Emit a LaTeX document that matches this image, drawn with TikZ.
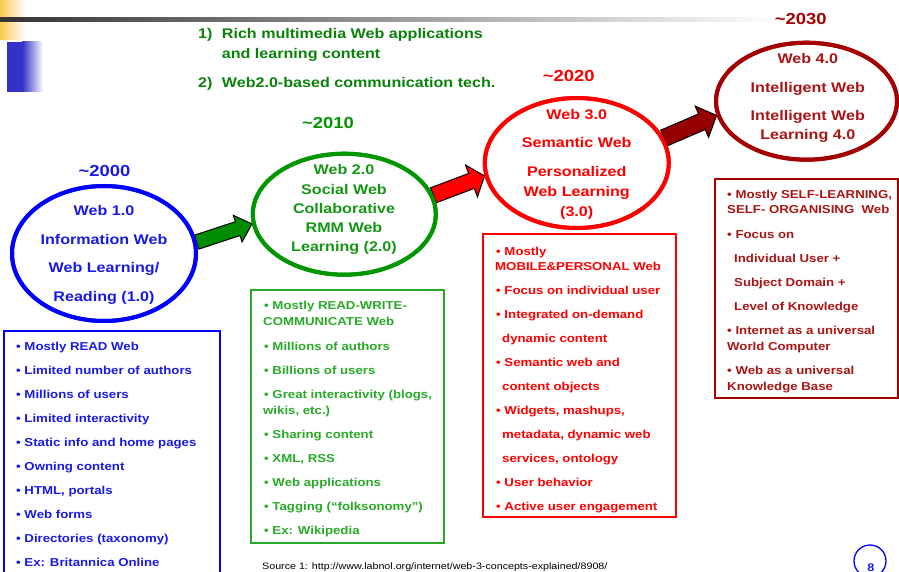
\documentclass[tikz,border=0pt]{standalone}
\usepackage{fontspec}
\setmainfont{Liberation Sans}[FakeStretch=1.15]
\usetikzlibrary{calc,shapes.geometric}
\definecolor{eblue}{RGB}{0,0,255}
\definecolor{tblue}{RGB}{25,25,230}
\definecolor{egreen}{RGB}{0,150,0}
\definecolor{tgreen}{RGB}{20,150,20}
\definecolor{bgreen}{RGB}{40,170,40}
\definecolor{hgreen}{RGB}{10,130,10}
\definecolor{ered}{RGB}{255,0,0}
\definecolor{edark}{RGB}{165,0,0}
\definecolor{tdark}{RGB}{170,20,20}
\definecolor{gold}{RGB}{250,200,80}
\definecolor{deco}{RGB}{50,50,200}
\definecolor{agreen}{RGB}{0,140,0}
\definecolor{adark}{RGB}{150,0,0}

\newcommand\blockarrow[6]{%
  \pgfpointdiff{\pgfpointanchor{#1}{center}}{\pgfpointanchor{#2}{center}}%
  \pgfgetlastxy{\bax}{\bay}%
  \pgfmathsetmacro\arrang{atan2(\bay,\bax)}%
  \pgfmathsetmacro\arrlen{veclen(\bax,\bay)}%
  \begin{scope}[shift={(#1)}, rotate=\arrang]
    \draw[barrow, fill=#6] (0,-#3) -- (\arrlen-#5,-#3) -- (\arrlen-#5,-#4) -- (\arrlen,0)
      -- (\arrlen-#5,#4) -- (\arrlen-#5,#3) -- (0,#3) -- cycle;
  \end{scope}}

\begin{document}
\begin{tikzpicture}[x=1pt,y=-1pt,
  ell/.style={ellipse, draw, line width=4pt, inner sep=0pt},
  ytxt/.style={font=\fontsize{16}{19}\selectfont\bfseries, anchor=base, inner sep=0pt},
  etxt/.style={font=\fontsize{14}{17}\selectfont\bfseries, anchor=base, inner sep=0pt},
  htxt/.style={font=\fontsize{14}{17}\selectfont\bfseries, anchor=base west, inner sep=0pt, text=hgreen},
  btxt/.style={font=\fontsize{11.5}{14}\selectfont\bfseries, anchor=base west, inner sep=0pt},
  listbox/.style={draw, line width=1.8pt},
  barrow/.style={draw=black, line width=1pt, line join=miter}]

\useasboundingbox (0,0) rectangle (899,572);

% decorations
\shade[left color=gold, right color=white] (0,0) rectangle (25,40);
\fill[deco] (7,42) rectangle (22,92);
\shade[left color=deco, right color=white] (22,42) rectangle (43,92);
\shade[left color=black!80, right color=white] (0,17.5) rectangle (780,21.5);

% header
\node[htxt] (h1n) at (198,39) {1)};
\node[htxt] (h1) at (221.7,39) {Rich multimedia Web applications};
\node[htxt] (h1b) at (221.7,58.5) {and learning content};
\node[htxt] (h2n) at (198,87.3) {2)};
\node[htxt] (h2) at (221.7,87.3) {Web2.0-based communication tech.};

% ellipses (shapes first, for arrow anchors)
\path node[ell, draw=eblue, minimum width=184pt, minimum height=135pt] (e1) at (104,253.5) {};
\path node[ell, draw=egreen, minimum width=183pt, minimum height=121pt] (e2) at (344.3,214.2) {};
\path node[ell, draw=ered, minimum width=184pt, minimum height=130pt] (e3) at (576.8,163) {};
\path node[ell, draw=edark, minimum width=181pt, minimum height=117pt] (e4) at (806.5,101.2) {};

\coordinate (a1s) at (e1.7);
\coordinate (a1e) at (e2.186);
\coordinate (a2s) at (e2.12);
\coordinate (a2e) at (e3.188);
\coordinate (a3s) at (e3.16);
\coordinate (a3e) at (e4.189);

\blockarrow{a1s}{a1e}{7.3}{14}{15}{agreen}
\blockarrow{a2s}{a2e}{8}{17}{14}{ered}
\blockarrow{a3s}{a3e}{8.5}{17}{16}{adark}

% redraw ellipses on top of arrow ends
\draw[line width=4pt, eblue] (e1.center) ellipse [x radius=92, y radius=67.5];
\draw[line width=4pt, egreen] (e2.center) ellipse [x radius=91.5, y radius=60.5];
\draw[line width=4pt, ered] (e3.center) ellipse [x radius=92, y radius=65];
\draw[line width=4pt, edark] (e4.center) ellipse [x radius=90.5, y radius=58.5];

% years
\node[ytxt, text=tblue] (y1) at (104.5,176.7) {\textasciitilde2000};
\node[ytxt, text=egreen] (y2) at (328,128.3) {\textasciitilde2010};
\node[ytxt, text=ered] (y3) at (568.8,81.7) {\textasciitilde2020};
\node[ytxt, text=edark] (y4) at (800.8,25) {\textasciitilde2030};

% ellipse texts
\node[etxt, text=tblue] (t1a) at (104,215) {Web 1.0};
\node[etxt, text=tblue] (t1b) at (104,244) {Information Web};
\node[etxt, text=tblue] (t1c) at (104,272.7) {Web Learning/};
\node[etxt, text=tblue] (t1d) at (104,301.7) {Reading (1.0)};

\node[etxt, text=tgreen] (t2a) at (344,175) {Web 2.0};
\node[etxt, text=tgreen] (t2b) at (344,194.3) {Social Web};
\node[etxt, text=tgreen] (t2c) at (344,213) {Collaborative};
\node[etxt, text=tgreen] (t2d) at (344,232) {RMM Web};
\node[etxt, text=tgreen] (t2e) at (344,251.7) {Learning (2.0)};

\node[etxt, text=ered] (t3a) at (576.7,119.3) {Web 3.0};
\node[etxt, text=ered] (t3b) at (576.7,147.3) {Semantic Web};
\node[etxt, text=ered] (t3c) at (576.7,176.7) {Personalized};
\node[etxt, text=ered] (t3d) at (576.7,196.7) {Web Learning};
\node[etxt, text=ered] (t3e) at (576.7,216) {(3.0)};

\node[etxt, text=tdark] (t4a) at (807.8,63.3) {Web 4.0};
\node[etxt, text=tdark] (t4b) at (807.8,92.7) {Intelligent Web};
\node[etxt, text=tdark] (t4c) at (807.8,121) {Intelligent Web};
\node[etxt, text=tdark] (t4d) at (807.8,140) {Learning 4.0};

% list boxes
\draw[listbox, eblue] (4,331) rectangle (220,580);
\draw[listbox, bgreen] (251,290) rectangle (444,543);
\draw[listbox, ered] (483,234) rectangle (676,517);
\draw[listbox, edark] (715,179) rectangle (898,398);

\foreach \yy/\xx/\txt [count=\i] in {
  350/16/{• Mostly READ Web},
  374/16/{• Limited number of authors},
  398/16/{• Millions of users},
  422/16/{• Limited interactivity},
  446/16/{• Static info and home pages},
  470/16/{• Owning content},
  494/16/{• HTML, portals},
  518/16/{• Web forms},
  542/16/{• Directories (taxonomy)},
  566/16/{• Ex: Britannica Online}}
  \node[btxt, text=tblue] (la\i) at (\xx,\yy) {\txt};

\foreach \yy/\xx/\txt [count=\i] in {
  309/264/{• Mostly READ-WRITE-},
  325.5/263/{COMMUNICATE Web},
  350/264/{• Millions of authors},
  374/264/{• Billions of users},
  398/264/{• Great interactivity (blogs,},
  414/263/{wikis, etc.)},
  438/264/{• Sharing content},
  462/264/{• XML, RSS},
  486/264/{• Web applications},
  510/264/{• Tagging (“folksonomy”)},
  534/264/{• Ex: Wikipedia}}
  \node[btxt, text=bgreen] (lb\i) at (\xx,\yy) {\txt};

\foreach \yy/\xx/\txt [count=\i] in {
  255/496/{• Mostly},
  270/495/{MOBILE\&PERSONAL Web},
  294/496/{• Focus on individual user},
  318/496/{• Integrated on-demand},
  342/502/{dynamic content},
  366/496/{• Semantic web and},
  390/502/{content objects},
  414/496/{• Widgets, mashups,},
  438/502/{metadata, dynamic web},
  462/502/{services, ontology},
  486/496/{• User behavior},
  510/496/{• Active user engagement}}
  \node[btxt, text=ered] (lc\i) at (\xx,\yy) {\txt};

\foreach \yy/\xx/\txt [count=\i] in {
  198/727/{• Mostly SELF-LEARNING,},
  214/727/{SELF- ORGANISING\ \ Web},
  238/727/{• Focus on},
  262/734/{Individual User +},
  286/734/{Subject Domain +},
  310/734/{Level of Knowledge},
  334/727/{• Internet as a universal},
  350/727/{World Computer},
  374/727/{• Web as a universal},
  390/727/{Knowledge Base}}
  \node[btxt, text=tdark] (ld\i) at (\xx,\yy) {\txt};

% footer
\node[font=\fontsize{9.3}{11}\selectfont, anchor=base west, inner sep=0pt] (src) at (262,569)
  {Source 1: http://www.labnol.org/internet/web-3-concepts-explained/8908/};
\node[circle, draw=eblue, line width=1.3pt, minimum size=32pt, inner sep=0pt] (pg) at (870,561) {};
\node[font=\fontsize{11}{13}\selectfont\bfseries, text=tblue, anchor=base, inner sep=0pt] (pgn) at (871,571) {8};
\end{tikzpicture}
\end{document}
